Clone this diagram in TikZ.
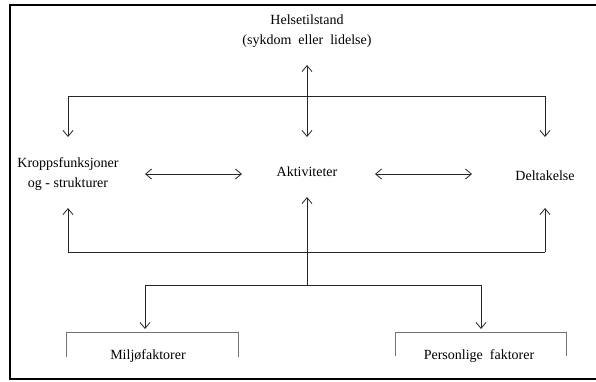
\documentclass[tikz,border=0pt]{standalone}
\usepackage{fontspec}
\setmainfont{Liberation Serif}
\usetikzlibrary{arrows.meta}
\begin{document}
\begin{tikzpicture}[x=1pt,y=-1pt,
  lbl/.style={inner sep=0pt,align=center,font=\fontsize{14}{20}\selectfont},
  conn/.style={draw=black!85,line width=0.8pt},
  arr/.style={conn,-{Straight Barb[length=6pt,width=10pt]}},
  darr/.style={conn,{Straight Barb[length=6pt,width=10pt]}-{Straight Barb[length=6pt,width=10pt]}},
  bracket/.style={draw=black!55,line width=1pt},
  frame/.style={draw=black,line width=1.2pt}]
\useasboundingbox (0,0) rectangle (596,381);
\draw[frame] (597,5) -- (10,5) -- (10,379) -- (597,379);
% texts
\node[lbl] (helse) at (307,31) {Helsetilstand\\(sykdom\ \ eller\ \ lidelse)};
\node[lbl] (kropp) at (68,174) {Kroppsfunksjoner\\og - strukturer};
\node[lbl] (akt) at (307,172) {Aktiviteter};
\node[lbl] (delt) at (545,176) {Deltakelse};
\node[lbl] (milj) at (148,356) {Miljøfaktorer};
\node[lbl] (pers) at (479,356) {Personlige\ \ faktorer};
% coordinates
\coordinate (ht) at (307,65);
\coordinate (hb) at (307,137);
\coordinate (tl) at (68,96);
\coordinate (tr) at (545,96);
\coordinate (tla) at (68,137);
\coordinate (tra) at (545,137);
\coordinate (ka) at (145,174);
\coordinate (ak1) at (242,174);
\coordinate (ak2) at (375,174);
\coordinate (da) at (472,174);
\coordinate (bl) at (68,252);
\coordinate (br) at (545,252);
\coordinate (bla) at (68,208);
\coordinate (bra) at (545,208);
\coordinate (bm) at (307,285);
\coordinate (bma) at (307,197);
\coordinate (ml) at (145,285);
\coordinate (mr) at (481,285);
\coordinate (mla) at (145,329);
\coordinate (mra) at (481,329);
% connectors
\draw[darr] (ht) -- (hb);
\draw[conn] (tl) -- (tr);
\draw[arr] (tl) -- (tla);
\draw[arr] (tr) -- (tra);
\draw[darr] (ka) -- (ak1);
\draw[darr] (ak2) -- (da);
\draw[conn] (bl) -- (br);
\draw[arr] (bl) -- (bla);
\draw[arr] (br) -- (bra);
\draw[arr] (bm) -- (bma);
\draw[conn] (ml) -- (mr);
\draw[arr] (ml) -- (mla);
\draw[arr] (mr) -- (mra);
% brackets
\draw[bracket] (66,357) -- (66,332) -- (238,332) -- (238,357);
\draw[bracket] (395,356) -- (395,332) -- (566,332) -- (566,356);
\end{tikzpicture}
\end{document}
